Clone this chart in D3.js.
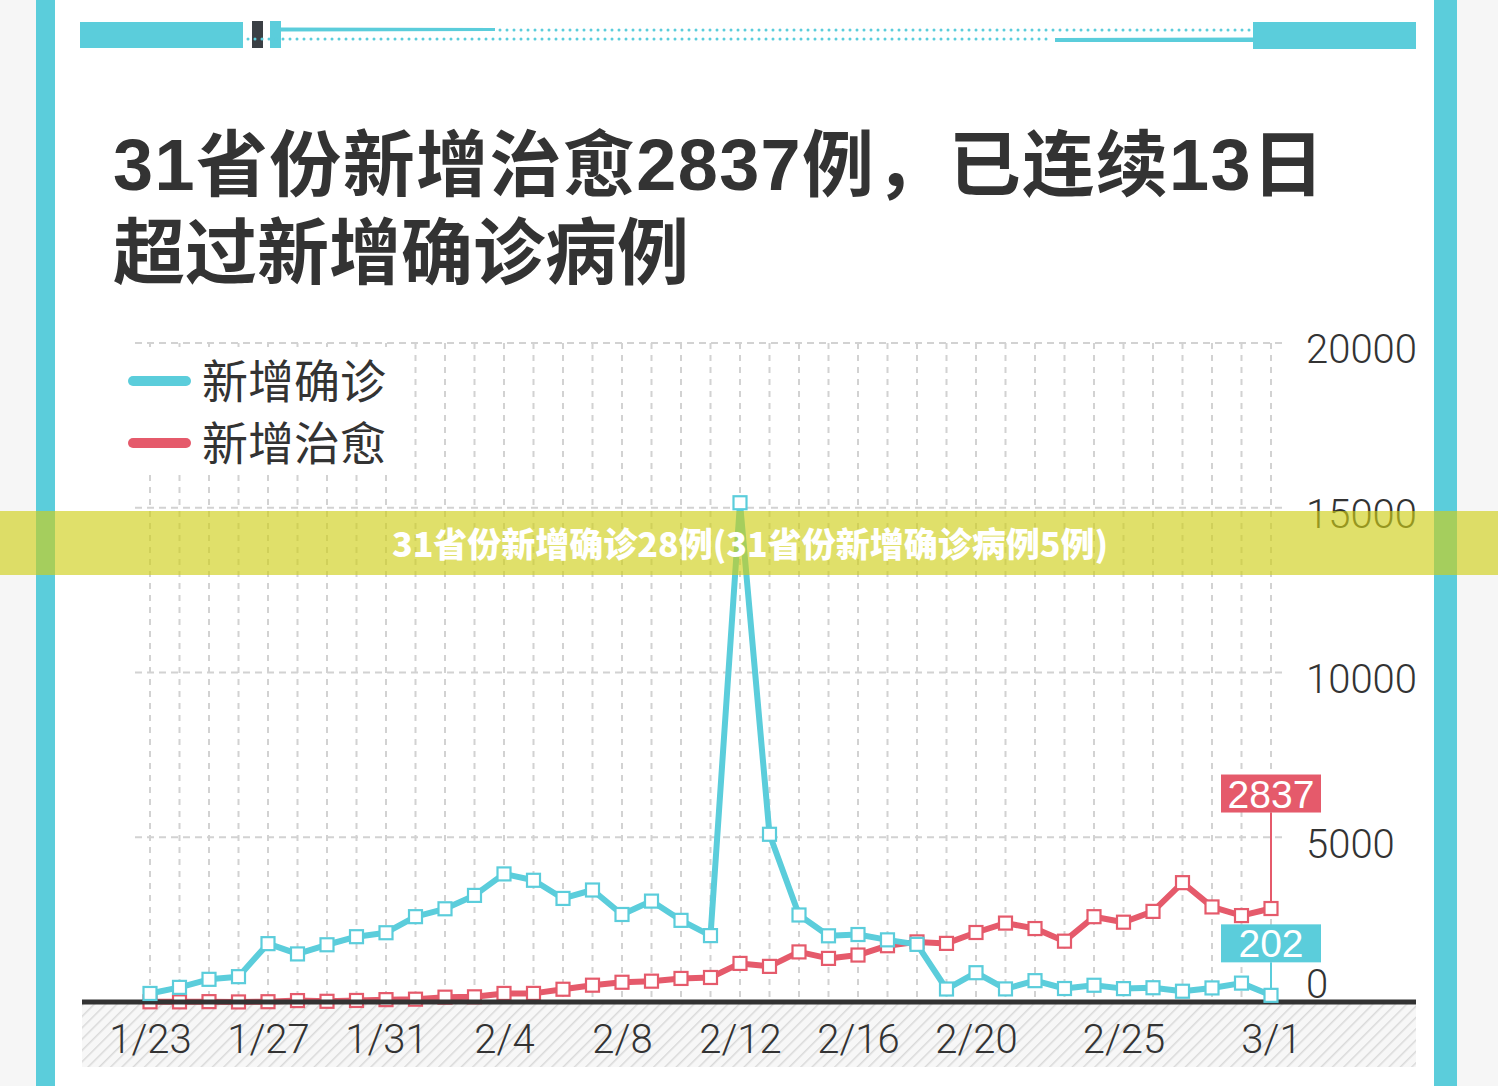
<!DOCTYPE html>
<html>
<head>
<meta charset="utf-8">
<script src="https://cdn.jsdelivr.net/npm/d3@7"></script>
<style>
  html, body { margin: 0; padding: 0; background: #f6f6f6; }
  svg { display: block; }
</style>
</head>
<body>
<svg id="chart" width="1498" height="1086"></svg>
<script>
// chart values
var dates = ["1/23","1/24","1/25","1/26","1/27","1/28","1/29","1/30","1/31",
  "2/1","2/2","2/3","2/4","2/5","2/6","2/7","2/8","2/9","2/10","2/11","2/12","2/13","2/14",
  "2/15","2/16","2/17","2/18","2/19","2/20","2/21","2/22","2/23","2/24","2/25","2/26","2/27",
  "2/28","2/29","3/1"];
var confirmed = [259,444,688,769,1771,1459,1737,1982,2102,
  2590,2829,3235,3887,3694,3143,3399,2656,3062,2478,2015,15152,5090,2641,
  2009,2048,1886,1749,394,889,397,648,409,508,406,433,327,
  427,573,202];
var cured = [6,4,11,2,9,43,21,47,72,
  85,147,157,260,261,387,510,599,632,715,744,1171,1081,1520,
  1323,1425,1708,1824,1779,2109,2395,2229,1846,2589,2422,2750,3622,
  2885,2623,2837];
var xTicks = ["1/23","1/27","1/31","2/4","2/8","2/12","2/16","2/20","2/25","3/1"];
var yTicks = [0,5000,10000,15000,20000];
var seriesNames = ["新增确诊","新增治愈"];
var titleLines = ["31省份新增治愈2837例，已连续13日","超过新增确诊病例"];
var bannerText = "31省份新增确诊28例(31省份新增确诊病例5例)";

var cyan = "#5bcddb",
    red = "#e55a6b",
    ink = "#333333";

var svg = d3.select("#chart");

// page frame
svg.append("rect").attr("x", 55).attr("y", 0).attr("width", 1379).attr("height", 1086).attr("fill", "#fff");
svg.append("rect").attr("x", 36).attr("y", 0).attr("width", 19).attr("height", 1086).attr("fill", cyan);
svg.append("rect").attr("x", 1434).attr("y", 0).attr("width", 23).attr("height", 1086).attr("fill", cyan);

// top decoration
var deco = svg.append("g");
deco.append("rect").attr("x", 80).attr("y", 22).attr("width", 163).attr("height", 26).attr("fill", cyan);
deco.append("rect").attr("x", 252).attr("y", 21).attr("width", 11).attr("height", 27).attr("fill", "#3b4045");
deco.append("rect").attr("x", 270).attr("y", 21).attr("width", 11).attr("height", 27).attr("fill", cyan);
deco.append("rect").attr("x", 1253).attr("y", 22).attr("width", 163).attr("height", 27).attr("fill", cyan);
deco.append("path").attr("d", "M281,27.5L495,28L495,31L281,31.5Z").attr("fill", cyan);
deco.append("path").attr("d", "M1055,38L1253,37.5L1253,42L1055,42Z").attr("fill", cyan);
deco.append("line").attr("x1", 500).attr("x2", 1250).attr("y1", 30).attr("y2", 30)
  .attr("stroke", cyan).attr("stroke-width", 3).attr("stroke-linecap", "round").attr("stroke-dasharray", "0,7");
deco.append("line").attr("x1", 248).attr("x2", 1052).attr("y1", 39).attr("y2", 39)
  .attr("stroke", cyan).attr("stroke-width", 3).attr("stroke-linecap", "round").attr("stroke-dasharray", "0,7");

// title
svg.append("g").selectAll("text")
  .data(titleLines)
  .enter().append("text")
    .attr("x", 113)
    .attr("y", function(d, i) { return 190 + i * 88; })
    .attr("fill", ink)
    .style("font-family", "'Liberation Sans', 'Noto Sans CJK SC', sans-serif")
    .style("font-weight", "bold")
    .style("font-size", "72px")
    .style("letter-spacing", function(d, i) { return i == 0 ? "1.4px" : "0px"; })
    .text(function(d) { return d; });

// scales
var x = d3.scalePoint().domain(dates).range([150, 1271]),
    y = d3.scaleLinear().domain([0, 20000]).range([1002, 343]);

// grid
var grid = svg.append("g");
grid.selectAll(".vgrid")
  .data(dates)
  .enter().append("line")
    .attr("x1", function(d) { return x(d); })
    .attr("x2", function(d) { return x(d); })
    .attr("y1", y(20000))
    .attr("y2", y(0))
    .attr("stroke", "#d2d2d2").attr("stroke-width", 2).attr("stroke-dasharray", "6,6");
grid.selectAll(".hgrid")
  .data(yTicks.filter(function(d) { return d > 0; }))
  .enter().append("line")
    .attr("x1", 135)
    .attr("x2", 1286)
    .attr("y1", function(d) { return y(d); })
    .attr("y2", function(d) { return y(d); })
    .attr("stroke", "#d2d2d2").attr("stroke-width", 2).attr("stroke-dasharray", "7,5");

// legend
var legend = svg.append("g");
legend.append("rect").attr("x", 100).attr("y", 347).attr("width", 305).attr("height", 123).attr("fill", "#fff");
var li = legend.selectAll(".item")
  .data(seriesNames)
  .enter().append("g")
    .attr("transform", function(d, i) { return "translate(0," + (381 + i * 62) + ")"; });
li.append("line")
  .attr("x1", 133).attr("x2", 186)
  .attr("stroke", function(d, i) { return i == 0 ? cyan : red; })
  .attr("stroke-width", 10)
  .attr("stroke-linecap", "round");
li.append("text")
  .attr("x", 202)
  .attr("dy", "0.36em")
  .attr("fill", ink)
  .style("font-family", "'Noto Sans CJK SC', sans-serif")
  .style("font-size", "46px")
  .text(function(d) { return d; });

// hatched floor
var defs = svg.append("defs");
var pat = defs.append("pattern")
  .attr("id", "hatch")
  .attr("patternUnits", "userSpaceOnUse")
  .attr("width", 8).attr("height", 8)
  .attr("patternTransform", "rotate(45)");
pat.append("rect").attr("width", 8).attr("height", 8).attr("fill", "#f7f7f7");
pat.append("line").attr("x1", 0).attr("x2", 0).attr("y1", 0).attr("y2", 8)
  .attr("stroke", "#d9d9d9").attr("stroke-width", 3);
svg.append("rect").attr("x", 82).attr("y", 1004).attr("width", 1334).attr("height", 63).attr("fill", "url(#hatch)");

var line = d3.line()
  .x(function(d, i) { return x(dates[i]); })
  .y(function(d) { return y(d); });

function drawSeries(values, color) {
  var g = svg.append("g");
  g.append("path")
    .datum(values)
    .attr("d", line)
    .attr("fill", "none")
    .attr("stroke", color)
    .attr("stroke-width", 6)
    .attr("stroke-linejoin", "round");
  g.selectAll("rect")
    .data(values)
    .enter().append("rect")
      .attr("x", function(d, i) { return x(dates[i]) - 6.5; })
      .attr("y", function(d) { return y(d) - 6.5; })
      .attr("width", 13)
      .attr("height", 13)
      .attr("fill", "#fff")
      .attr("stroke", color)
      .attr("stroke-width", 2.2);
}

drawSeries(cured, red);

// baseline
svg.append("line").attr("x1", 82).attr("x2", 1416).attr("y1", y(0)).attr("y2", y(0))
  .attr("stroke", "#333").attr("stroke-width", 5);

drawSeries(confirmed, cyan);

// end value labels
var last = dates.length - 1;
var endLabels = [
  {v: cured[last], color: red, off: 96},
  {v: confirmed[last], color: cyan, off: 33}
];
var el = svg.append("g").selectAll("g")
  .data(endLabels)
  .enter().append("g");
el.append("line")
  .attr("x1", x(dates[last])).attr("x2", x(dates[last]))
  .attr("y1", function(d) { return y(d.v) - d.off; })
  .attr("y2", function(d) { return y(d.v) - 6; })
  .attr("stroke", function(d) { return d.color; })
  .attr("stroke-width", 2);
el.append("rect")
  .attr("x", x(dates[last]) - 50)
  .attr("y", function(d) { return y(d.v) - d.off - 38; })
  .attr("width", 100)
  .attr("height", 38)
  .attr("fill", function(d) { return d.color; });
el.append("text")
  .attr("x", x(dates[last]))
  .attr("y", function(d) { return y(d.v) - d.off - 19; })
  .attr("dy", "0.36em")
  .attr("text-anchor", "middle")
  .attr("fill", "#fff")
  .style("font-family", "'Liberation Sans', sans-serif")
  .style("font-size", "39px")
  .text(function(d) { return d.v; });

// axes
var xAxis = svg.append("g")
  .attr("transform", "translate(0," + y(0) + ")")
  .call(d3.axisBottom(x).tickValues(xTicks).tickSize(0).tickPadding(23));
var yAxis = svg.append("g")
  .attr("transform", "translate(1306,7)")
  .call(d3.axisRight(y).tickValues(yTicks).tickFormat(d3.format("d")).tickSize(0).tickPadding(0));
[xAxis, yAxis].forEach(function(a) {
  a.select(".domain").remove();
  a.selectAll("text")
    .attr("fill", ink)
    .style("font-family", "Roboto, 'Liberation Sans', sans-serif")
    .style("font-weight", "300")
    .style("font-size", "40px");
});
yAxis.selectAll(".tick text").filter(function(d) { return d === 0; }).attr("y", -24);

// overlay banner
svg.append("rect").attr("x", 0).attr("y", 511).attr("width", 1498).attr("height", 64)
  .attr("fill", "rgb(206,206,22)").attr("fill-opacity", 0.64);
svg.append("text")
  .attr("x", 750)
  .attr("y", 545)
  .attr("dy", "0.36em")
  .attr("text-anchor", "middle")
  .attr("fill", "#fff")
  .style("font-family", "'Noto Sans CJK SC', sans-serif")
  .style("font-weight", "900")
  .style("font-size", "34px")
  .text(bannerText);
</script>
</body>
</html>
